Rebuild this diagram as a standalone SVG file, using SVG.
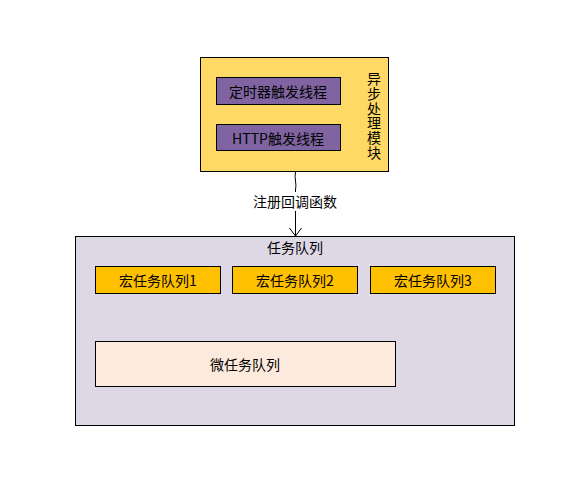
<svg xmlns="http://www.w3.org/2000/svg" width="573" height="479" viewBox="0 0 573 479">
<defs>
<style>
text{font-family:"Noto Sans CJK SC","Liberation Sans",sans-serif;font-size:14px;fill:#000;text-anchor:middle;dominant-baseline:central}
.v{writing-mode:vertical-rl;letter-spacing:0.7px}
.b{stroke:#000;stroke-width:1}
</style>
<marker id="ah" markerWidth="12" markerHeight="14" refX="10" refY="7" orient="auto" markerUnits="userSpaceOnUse" viewBox="0 0 12 14">
<path d="M2,1 L10,7 L2,13" fill="none" stroke="#000" stroke-width="1"/>
</marker>
</defs>
<rect width="573" height="479" fill="#fff"/>
<g id="async-module">
<rect class="b" x="200.5" y="57.5" width="188" height="114" fill="#FFD966"/>
<text class="v" x="374" y="116">异步处理模块</text>
</g>
<g id="timer-thread">
<rect class="b" x="216.5" y="77.5" width="124" height="27" fill="#8064A2"/>
<text x="278" y="91">定时器触发线程</text>
</g>
<g id="http-thread">
<rect class="b" x="216.5" y="124.5" width="124" height="26" fill="#8064A2"/>
<text x="278" y="137.5">HTTP触发线程</text>
</g>
<g id="task-queue">
<rect class="b" x="75.5" y="236.5" width="439" height="189" fill="#DDD7E6"/>
<text x="295" y="247">任务队列</text>
</g>
<g id="macro1">
<rect class="b" x="95.5" y="266.5" width="125" height="27" fill="#FFC000"/>
<text x="158" y="280">宏任务队列1</text>
</g>
<g id="macro2">
<rect class="b" x="232.5" y="266.5" width="125" height="27" fill="#FFC000"/>
<text x="295" y="280">宏任务队列2</text>
</g>
<g id="macro3">
<rect class="b" x="370.5" y="266.5" width="125" height="27" fill="#FFC000"/>
<text x="433" y="280">宏任务队列3</text>
</g>
<g id="micro">
<rect class="b" x="95.5" y="341.5" width="300" height="45" fill="#FCEADC"/>
<text x="245" y="364">微任务队列</text>
</g>
<g id="connectors">
<path d="M295.5,172 C294,178 297,184 295.5,190 L295.5,236" fill="none" stroke="#000" stroke-width="1" marker-end="url(#ah)"/>
<rect x="251" y="192" width="88" height="19" fill="#fff"/>
<text x="295" y="201">注册回调函数</text>
</g>
</svg>
